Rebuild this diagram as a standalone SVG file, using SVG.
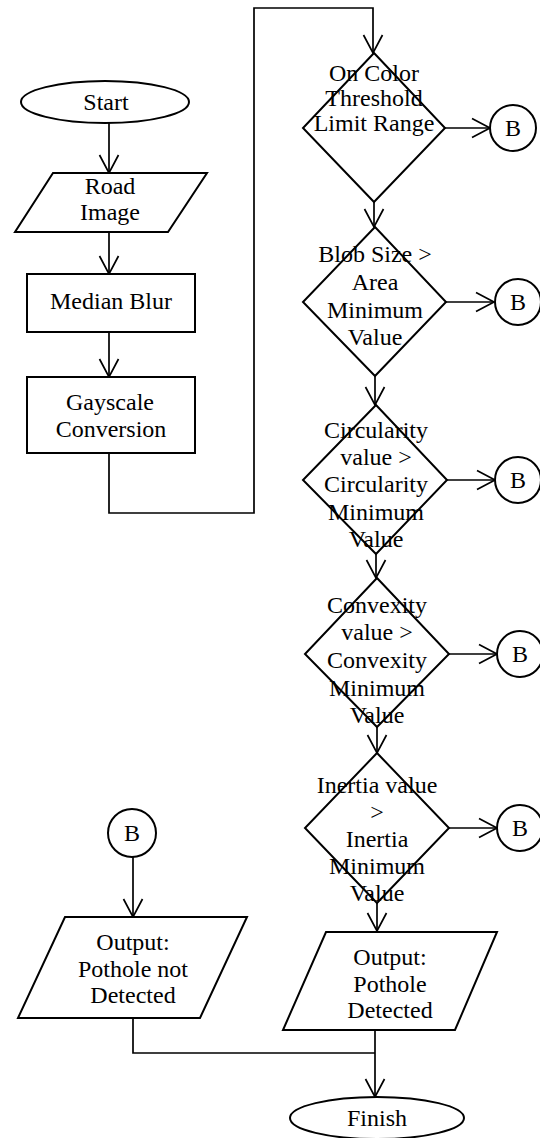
<svg xmlns="http://www.w3.org/2000/svg" width="540" height="1138" viewBox="0 0 540 1138">
<style>
.s{fill:#fff;stroke:#000;stroke-width:2}
.c{fill:none;stroke:#000;stroke-width:1.7}
text{font-family:"Liberation Serif","Times New Roman",serif;font-size:24px;fill:#000;text-anchor:middle}
</style>
<defs>
<marker id="a" viewBox="-19 -11 21 22" refX="0" refY="0" markerWidth="21" markerHeight="22" markerUnits="userSpaceOnUse" orient="auto">
<path d="M-18,-9.5 L0,0 L-18,9.5" fill="none" stroke="#000" stroke-width="1.7"/>
</marker>
</defs>
<rect width="540" height="1138" fill="#fff"/>
<g id="connectors" class="c">
<path class="c" d="M109,123 V173" marker-end="url(#a)"/>
<path class="c" d="M109,232 V274" marker-end="url(#a)"/>
<path class="c" d="M109,332 V377" marker-end="url(#a)"/>
<path class="c" d="M109,453 V513 H254 V8 H373 V53" marker-end="url(#a)"/>
<path class="c" d="M374,202 V227" marker-end="url(#a)"/>
<path class="c" d="M375,376 V405" marker-end="url(#a)"/>
<path class="c" d="M376,554 V578" marker-end="url(#a)"/>
<path class="c" d="M377,727 V753" marker-end="url(#a)"/>
<path class="c" d="M377,903 V931" marker-end="url(#a)"/>
<path class="c" d="M445,128 H490" marker-end="url(#a)"/>
<path class="c" d="M446,302 H494" marker-end="url(#a)"/>
<path class="c" d="M447,480 H495" marker-end="url(#a)"/>
<path class="c" d="M449,654 H497" marker-end="url(#a)"/>
<path class="c" d="M449,828 H497" marker-end="url(#a)"/>
<path class="c" d="M133,857 V917" marker-end="url(#a)"/>
<path class="c" d="M133,1018 V1053 H375"/>
<path class="c" d="M375,1030 V1097" marker-end="url(#a)"/>
</g>
<g id="start"><ellipse class="s" cx="105" cy="102" rx="84" ry="21"/><text x="106" y="110">Start</text></g>
<g id="road"><polygon class="s" points="53,173 207,173 168,232 15,232"/><text x="110" y="194">Road</text><text x="110" y="220">Image</text></g>
<g id="median"><rect class="s" x="27" y="274" width="168" height="58"/><text x="111" y="309">Median Blur</text></g>
<g id="gray"><rect class="s" x="27" y="377" width="168" height="76"/><text x="110" y="410">Gayscale</text><text x="111" y="437">Conversion</text></g>
<g id="d1"><polygon class="s" points="374,53 445,128 374,202 303,128"/><text x="374" y="81">On Color</text><text x="374" y="106">Threshold</text><text x="374" y="131">Limit Range</text></g>
<g id="d2"><polygon class="s" points="375,227 446,302 375,376 303,302"/><text x="375" y="262">Blob Size &gt;</text><text x="375" y="290">Area</text><text x="375" y="318">Minimum</text><text x="375" y="345">Value</text></g>
<g id="d3"><polygon class="s" points="376,405 447,480 376,554 303,480"/><text x="376" y="438">Circularity</text><text x="376" y="465">value &gt;</text><text x="376" y="492">Circularity</text><text x="376" y="520">Minimum</text><text x="376" y="547">Value</text></g>
<g id="d4"><polygon class="s" points="377,578 449,654 377,727 305,654"/><text x="377" y="613">Convexity</text><text x="377" y="640">value &gt;</text><text x="377" y="668">Convexity</text><text x="377" y="696">Minimum</text><text x="377" y="723">Value</text></g>
<g id="d5"><polygon class="s" points="377,753 449,828 377,903 305,828"/><text x="377" y="793">Inertia value</text><text x="377" y="820">&gt;</text><text x="377" y="847">Inertia</text><text x="377" y="874">Minimum</text><text x="377" y="901">Value</text></g>
<g id="b1"><circle class="s" cx="513" cy="128" r="23"/><text x="513" y="136">B</text></g>
<g id="b2"><circle class="s" cx="518" cy="302" r="23"/><text x="518" y="310">B</text></g>
<g id="b3"><circle class="s" cx="518" cy="480" r="23"/><text x="518" y="488">B</text></g>
<g id="b4"><circle class="s" cx="520" cy="654" r="23"/><text x="520" y="662">B</text></g>
<g id="b5"><circle class="s" cx="520" cy="828" r="23"/><text x="520" y="836">B</text></g>
<g id="bl"><circle class="s" cx="132" cy="833" r="24"/><text x="132" y="841">B</text></g>
<g id="notdet"><polygon class="s" points="65,917 247,917 200,1018 18,1018"/><text x="133" y="950">Output:</text><text x="133" y="977">Pothole not</text><text x="133" y="1003">Detected</text></g>
<g id="det"><polygon class="s" points="326,932 497,932 455,1030 283,1030"/><text x="390" y="965">Output:</text><text x="390" y="992">Pothole</text><text x="390" y="1018">Detected</text></g>
<g id="finish"><ellipse class="s" cx="377" cy="1118" rx="87" ry="21"/><text x="377" y="1126">Finish</text></g>
</svg>
